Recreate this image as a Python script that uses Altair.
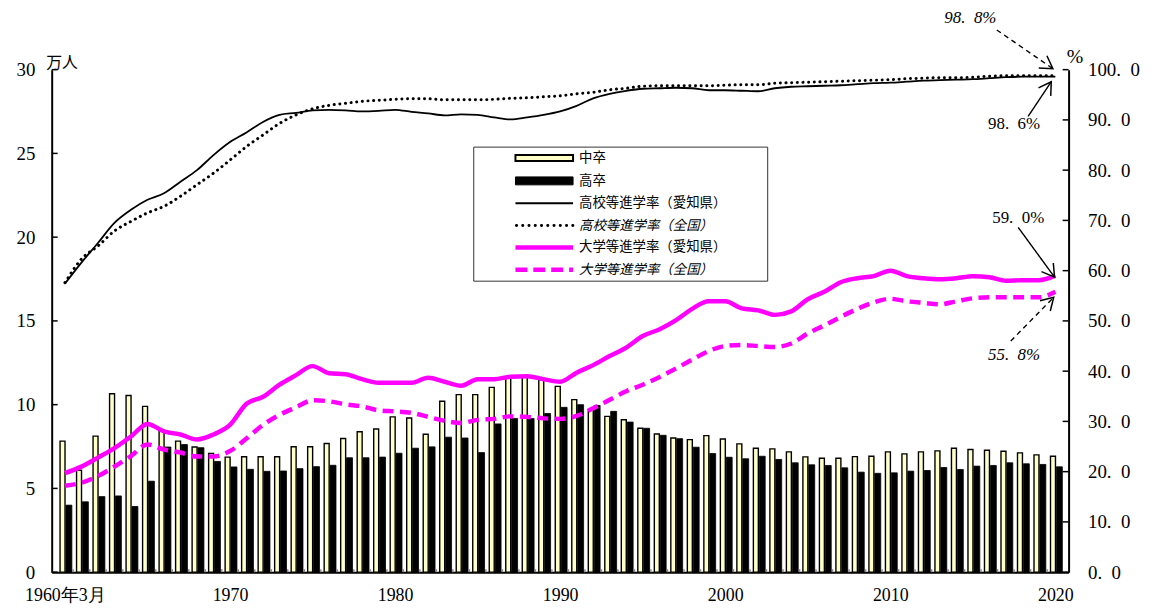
import altair as alt
import pandas as pd

years = list(range(1960, 2021))
chu_sotsu = [7.82, 6.08, 8.12, 10.65, 10.55, 9.90, 8.51, 7.82, 7.47, 7.09,
             6.87, 6.89, 6.89, 6.89, 7.49, 7.49, 7.68, 7.98, 8.38, 8.55,
             9.27, 9.20, 8.23, 10.20, 10.60, 10.60, 11.03, 11.60, 11.70, 11.50,
             11.09, 10.30, 9.70, 9.30, 9.10, 8.59, 8.25, 8.01, 7.91, 8.15,
             7.95, 7.66, 7.40, 7.36, 7.18, 6.88, 6.80, 6.80, 6.90, 6.92,
             7.18, 7.06, 7.18, 7.24, 7.40, 7.32, 7.28, 7.22, 7.12, 7.00, 6.92]
kou_sotsu = [4.00, 4.20, 4.51, 4.55, 3.92, 5.43, 7.47, 7.62, 7.43, 6.61,
             6.28, 6.14, 6.02, 6.04, 6.18, 6.30, 6.38, 6.83, 6.83, 6.87,
             7.10, 7.40, 7.48, 8.06, 8.01, 7.14, 8.85, 9.17, 9.17, 9.47,
             9.84, 10.00, 9.95, 9.60, 8.96, 8.59, 8.17, 7.97, 7.46, 7.08,
             6.86, 6.77, 6.92, 6.73, 6.53, 6.41, 6.37, 6.23, 5.97, 5.90,
             5.93, 6.03, 6.07, 6.25, 6.13, 6.33, 6.37, 6.53, 6.47, 6.43, 6.29]
hs_aichi = [57.4, 61.6, 65.5, 69.5, 72.1, 74.1, 75.4, 77.7, 80.0, 83.0,
            85.6, 87.5, 89.6, 91.0, 91.4, 91.9, 92.0, 91.9, 91.7, 91.8,
            92.0, 91.6, 91.3, 90.9, 91.1, 91.0, 90.5, 90.1, 90.5, 91.0,
            91.7, 92.8, 94.3, 95.2, 95.8, 96.2, 96.3, 96.4, 96.3, 95.9,
            95.9, 95.8, 95.7, 96.3, 96.6, 96.7, 96.8, 96.9, 97.1, 97.3,
            97.4, 97.6, 97.8, 97.9, 98.0, 98.1, 98.3, 98.5, 98.6, 98.6, 98.6]
hs_nat = [57.6, 62.3, 64.9, 67.9, 69.8, 71.5, 72.8, 74.8, 77.1, 79.4,
          82.0, 84.7, 87.0, 89.3, 91.0, 92.2, 92.9, 93.3, 93.7, 93.9,
          94.1, 94.2, 94.2, 94.0, 94.0, 94.0, 94.1, 94.3, 94.4, 94.6,
          94.8, 95.2, 95.5, 96.0, 96.3, 96.7, 96.8, 96.8, 96.8, 96.8,
          96.9, 97.0, 97.0, 97.3, 97.4, 97.5, 97.6, 97.7, 97.8, 97.9,
          98.0, 98.2, 98.3, 98.4, 98.4, 98.5, 98.7, 98.8, 98.8, 98.8, 98.8]
uni_aichi = [19.7, 21.0, 22.8, 24.7, 27.0, 29.5, 28.0, 27.4, 26.4, 27.4,
             29.3, 33.5, 34.9, 37.3, 39.2, 41.0, 39.6, 39.4, 38.4, 37.7,
             37.7, 37.7, 38.7, 37.9, 37.1, 38.4, 38.4, 38.9, 39.0, 38.4,
             37.9, 39.7, 41.2, 43.0, 44.7, 47.0, 48.3, 50.1, 52.4, 53.9,
             53.9, 52.5, 52.1, 51.2, 51.9, 54.3, 55.8, 57.7, 58.5, 58.9,
             60.0, 58.9, 58.5, 58.3, 58.5, 58.9, 58.7, 58.0, 58.1, 58.1, 59.0]
uni_nat = [17.2, 17.8, 19.1, 21.0, 23.1, 25.4, 24.4, 23.8, 23.0, 23.0,
           24.1, 26.6, 29.3, 31.3, 32.8, 34.2, 34.0, 33.4, 33.0, 32.2,
           32.0, 31.7, 30.9, 30.1, 29.7, 30.3, 30.5, 31.0, 30.9, 30.6,
           30.5, 31.1, 32.6, 34.3, 36.0, 37.3, 38.8, 40.5, 42.3, 44.0,
           45.0, 45.2, 45.0, 44.8, 45.5, 47.5, 49.1, 50.8, 52.4, 53.7,
           54.4, 53.9, 53.6, 53.3, 53.9, 54.5, 54.7, 54.7, 54.7, 54.7, 55.8]

left_ticks = [0, 5, 10, 15, 20, 25, 30]
right_ticks = [0, 10, 20, 30, 40, 50, 60, 70, 80, 90, 100]
x_label_years = [1960, 1970, 1980, 1990, 2000, 2010, 2020]

legend_labels = ["中卒", "高卒", "高校等進学率（愛知県）", "高校等進学率（全国）",
                 "大学等進学率（愛知県）", "大学等進学率（全国）"]

ann_text = ["98.\u20028%", "98.\u20026%", "59.\u20020%", "55.\u20028%"]
ann_year = [2014.85, 2017.5, 2017.75, 2017.5]
ann_pct = [110.3, 89.1, 70.4, 43.3]
ann_italic = [True, False, False, True]
arrow_year1 = [2016.45, 2018.35, 2017.75, 2017.3]
arrow_pct1 = [107.9, 90.7, 68.6, 46.0]
arrow_year2 = [2019.85, 2019.75, 2019.95, 2019.9]
arrow_pct2 = [100.2, 97.6, 58.7, 54.7]
arrow_dash = ["dashed", "solid", "solid", "dashed"]
arrow_angle = [124, 33, 144, 45]

df = pd.DataFrame({"year": years, "chu": chu_sotsu, "kou": kou_sotsu,
                   "hs_a": hs_aichi, "hs_n": hs_nat,
                   "uni_a": uni_aichi, "uni_n": uni_nat})

W, H = 1024, 506
SERIF = "Liberation Serif"
SANS = "Noto Sans CJK JP"
MAG = "#FF00FF"
CREAM = "#FFFFC8"

xscale = alt.Scale(domain=[1959.5, 2020.5], nice=False, zero=False)
x_axis = alt.Axis(values=x_label_years, format="d",
                  labelExpr="datum.value == 1960 ? '1960年3月' : datum.label",
                  tickSize=0, labelPadding=15, domainColor="black", domainWidth=2,
                  labelFont=SERIF, labelFontSize=18, labelColor="black",
                  grid=False, title=None, labelFlush=False, labelOverlap=False)


def XF(field):
    # every layer carries the same x axis so that the shared axis merges cleanly
    return alt.X(f"{field}:Q", scale=xscale, axis=x_axis)


yl_scale = alt.Scale(domain=[0, 30], nice=False, zero=True)
yl_axis = alt.Axis(orient="left", values=left_ticks, tickSize=0, labelPadding=17,
                   domainColor="black", domainWidth=2, labelFont=SERIF,
                   labelFontSize=19, labelColor="black", grid=False,
                   title="万人", titleAngle=0, titleX=10, titleY=-7,
                   titleAlign="center", titleBaseline="middle", titleFont=SANS,
                   titleFontSize=16, titleFontWeight="normal", titleColor="black")
yr_scale = alt.Scale(domain=[0, 100], nice=False, zero=True)
yr_axis = alt.Axis(orient="right", values=right_ticks,
                   labelExpr="replace(format(datum.value, '.1f'), '.', '.\u2002')",
                   tickSize=0, labelPadding=19, domainColor="black", domainWidth=2,
                   labelFont=SERIF, labelFontSize=19, labelColor="black", grid=False,
                   title="%", titleAngle=0, titleX=6, titleY=-13,
                   titleAlign="center", titleBaseline="middle", titleFont=SERIF,
                   titleFontSize=20, titleFontWeight="normal", titleColor="black")

base = alt.Chart(df)

bar_chu = base.mark_bar(orient="vertical", size=5, xOffset=-2.4, fill=CREAM,
                        stroke="black", strokeWidth=1.4).encode(
    x=XF("year"), y=alt.Y("chu:Q", scale=yl_scale, axis=yl_axis))
bar_kou = base.mark_bar(orient="vertical", size=6, xOffset=4.0, fill="black",
                        stroke="black", strokeWidth=0.8).encode(
    x=XF("year"), y=alt.Y("kou:Q", scale=yl_scale, axis=None))

minor = base.transform_filter("datum.year < 2020").transform_calculate(
    b="datum.year + 0.5").mark_rule(color="#888888", strokeWidth=1.5).encode(
    x=XF("b"), y=alt.value(H - 3), y2=alt.value(H))

lt = alt.Chart(pd.DataFrame({"v": left_ticks})).mark_rule(
    color="black", strokeWidth=1.5).encode(
    y=alt.Y("v:Q", scale=yl_scale, axis=None), x=alt.value(0), x2=alt.value(6))


def line(field, axis, **kw):
    return base.mark_line(interpolate="monotone", **kw).encode(
        x=XF("year"), y=alt.Y(f"{field}:Q", scale=yr_scale, axis=axis))


l_uni_n = line("uni_n", yr_axis, color=MAG, strokeWidth=4.5, strokeDash=[11, 6.5])
l_uni_a = line("uni_a", None, color=MAG, strokeWidth=4.5)
l_hs_n = line("hs_n", None, color="black", strokeWidth=3, strokeDash=[0.1, 5.6], strokeCap="round")
l_hs_a = line("hs_a", None, color="black", strokeWidth=1.8)

rt = alt.Chart(pd.DataFrame({"v": right_ticks})).mark_rule(
    color="black", strokeWidth=1.5).encode(
    y=alt.Y("v:Q", scale=yr_scale, axis=None), x=alt.value(W - 6), x2=alt.value(W))

arr = pd.DataFrame({"x1": arrow_year1, "y1": arrow_pct1, "x2": arrow_year2,
                    "y2": arrow_pct2, "dash": arrow_dash, "ang": arrow_angle})
arrow_lines = []
for style, dash in (("solid", [1, 0]), ("dashed", [5, 4])):
    arrow_lines.append(
        alt.Chart(arr).transform_filter(f"datum.dash == '{style}'").mark_rule(
            color="black", strokeWidth=1.4, strokeDash=dash).encode(
            x=XF("x1"), x2="x2:Q",
            y=alt.Y("y1:Q", scale=yr_scale, axis=None), y2="y2:Q"))
arrow_heads = alt.Chart(arr).mark_point(
    shape="M -0.6 1 L 0 0 L 0.6 1", filled=False, size=600, strokeWidth=1.5,
    color="black", opacity=1).encode(
    x=XF("x2"),
    y=alt.Y("y2:Q", scale=yr_scale, axis=None),
    angle=alt.Angle("ang:Q", scale=None))

ann = pd.DataFrame({"t": ann_text, "x": ann_year, "y": ann_pct, "it": ann_italic})
ann_layers = []
for italic in (True, False):
    ann_layers.append(
        alt.Chart(ann).transform_filter(
            "datum.it" if italic else "!datum.it").mark_text(
            font=SERIF, fontSize=17, fontStyle="italic" if italic else "normal",
            color="black", align="center", baseline="middle").encode(
            x=XF("x"),
            y=alt.Y("y:Q", scale=yr_scale, axis=None),
            text="t:N"))

one = pd.DataFrame({"k": [0]})
LX0, LX1, TX = 467, 525, 531
rows = [89, 112, 134.5, 157, 179, 201.5]
legend_layers = [
    alt.Chart(one).mark_rect(fill="white", stroke="#333333", strokeWidth=1).encode(
        x=alt.value(425), x2=alt.value(721), y=alt.value(78), y2=alt.value(213)),
    alt.Chart(one).mark_rect(fill=CREAM, stroke="black", strokeWidth=2).encode(
        x=alt.value(LX0), x2=alt.value(LX1), y=alt.value(rows[0] - 3), y2=alt.value(rows[0] + 3)),
    alt.Chart(one).mark_rect(fill="black", stroke="black", strokeWidth=1).encode(
        x=alt.value(LX0), x2=alt.value(LX1), y=alt.value(rows[1] - 4), y2=alt.value(rows[1] + 4)),
    alt.Chart(one).mark_rule(color="black", strokeWidth=2).encode(
        x=alt.value(LX0), x2=alt.value(LX1), y=alt.value(rows[2])),
    alt.Chart(one).mark_rule(color="black", strokeWidth=3, strokeDash=[0.1, 6.2], strokeCap="round").encode(
        x=alt.value(LX0 + 1), x2=alt.value(LX1), y=alt.value(rows[3])),
    alt.Chart(one).mark_rule(color=MAG, strokeWidth=4.5).encode(
        x=alt.value(LX0), x2=alt.value(LX1), y=alt.value(rows[4])),
    alt.Chart(one).mark_rule(color=MAG, strokeWidth=4.5, strokeDash=[12, 6]).encode(
        x=alt.value(LX0), x2=alt.value(LX1), y=alt.value(rows[5])),
]
for i, lab in enumerate(legend_labels):
    legend_layers.append(
        alt.Chart(pd.DataFrame({"t": [lab]})).mark_text(
            font=SANS, fontSize=13.5, color="black", align="left", baseline="middle",
            fontStyle="italic" if i in (3, 5) else "normal").encode(
            x=alt.value(TX), y=alt.value(rows[i]), text="t:N"))

chart = alt.layer(bar_chu, bar_kou, minor, lt,
                  l_uni_n, l_uni_a, l_hs_n, l_hs_a, rt,
                  *arrow_lines, arrow_heads, *ann_layers, *legend_layers
                  ).resolve_scale(y="independent").properties(
    width=W, height=H,
    autosize=alt.AutoSizeParams(type="none"),
    padding={"left": 44, "top": 60, "right": 86, "bottom": 32},
).configure_view(stroke=None)

chart.save("out.html", embed_options={"renderer": "svg", "actions": False})
